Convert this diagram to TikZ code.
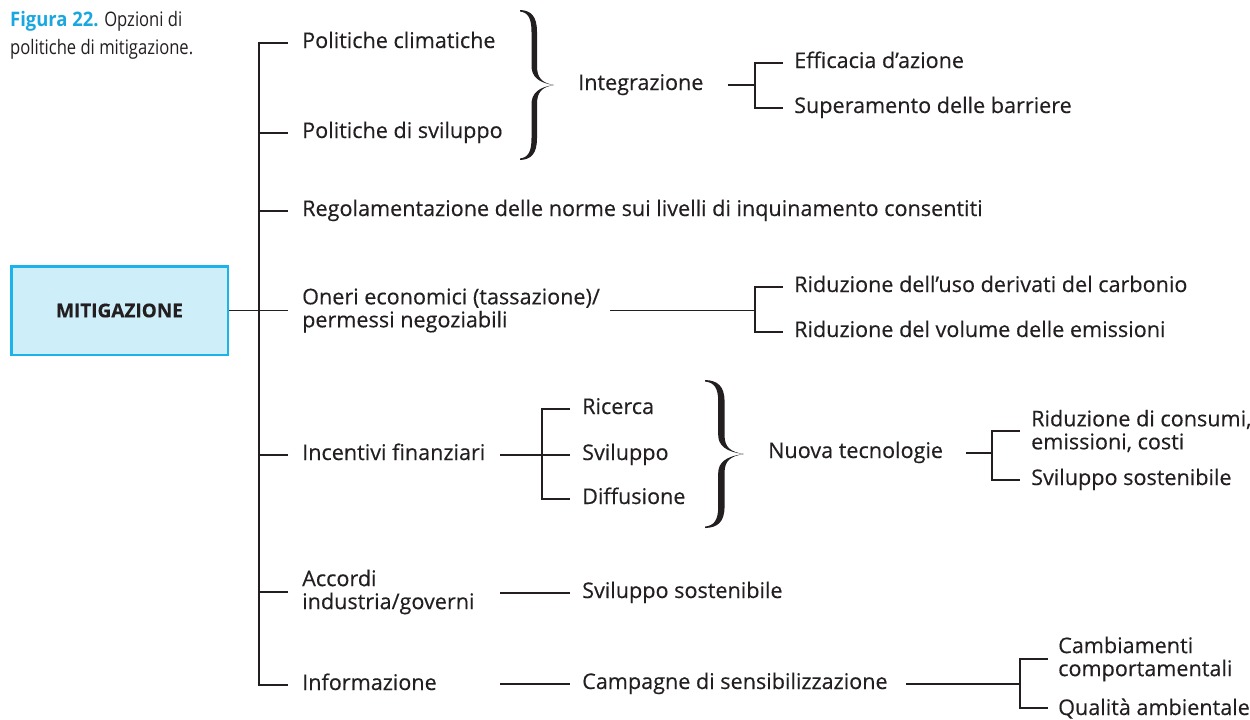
\documentclass[tikz,border=0pt]{standalone}
\usepackage{fontspec}
\setmainfont{Open Sans}[FakeBold=0.3]
\newfontfamily\capfont[FakeStretch=0.83]{Open Sans}
\newfontfamily\capbold[FakeStretch=0.92]{Open Sans}
\usepackage{xcolor}
\usepackage{tikz}
\usetikzlibrary{positioning}

\definecolor{ink}{HTML}{231F20}
\definecolor{capblue}{HTML}{1AA7E0}
\definecolor{boxfill}{HTML}{CEEEFA}
\definecolor{boxline}{HTML}{1BB3EA}

\tikzset{
	item/.style={anchor=west, inner sep=0pt, text=ink, font=\fontsize{21.6}{23}\selectfont, text height=15pt, text depth=5pt},
	item2/.style={anchor=west, inner sep=0pt, text=ink, font=\fontsize{21.6}{23}\selectfont, align=left},
	wire/.style={draw=ink, line width=1.2pt},
	curlybrace/.pic={
		\fill[ink] (0,0) .. controls (11,0.5) and (17,6) .. (17,22) -- (17,56)
		.. controls (17,68) and (22,73) .. (34,75)
		.. controls (22,77) and (17,82) .. (17,94) -- (17,128)
		.. controls (17,144) and (11,149.5) .. (0,150) -- (0,148.5)
		.. controls (8,147.5) and (11.5,142) .. (11.5,128) -- (11.5,94)
		.. controls (11.5,84) and (18,77) .. (34,75)
		.. controls (18,73) and (11.5,66) .. (11.5,56) -- (11.5,22)
		.. controls (11.5,8) and (8,2.5) .. (0,1.5) -- cycle;
	}
}

\begin{document}
\begin{tikzpicture}[x=1pt, y=-1pt]
	\useasboundingbox (0,0) rectangle (1250,720);

	% caption
	\node[anchor=north west, inner sep=0pt, align=left, text=ink, font=\capfont\fontsize{20}{28}\selectfont] (cap) at (10,11) {{\capbold\bfseries\color{capblue}Figura 22.} Opzioni di\\politiche di mitigazione.};

	\node[draw=boxline, fill=boxfill, line width=2.5pt, minimum width=216.5pt, minimum height=88.5pt, text=ink, font=\fontsize{19}{23}\selectfont\bfseries] (mit) at (119.5,310.5) {MITIGAZIONE};

	% main branches
	\node[item] (pc) at (302,43) {Politiche climatiche};
	\node[item] (ps) at (302,133) {Politiche di sviluppo};
	\node[item] (reg) at (302,211) {Regolamentazione delle norme sui livelli di inquinamento consentiti};
	\node[item2] (on) at (302,310.5) {Oneri economici (tassazione)/\\permessi negoziabili};
	\node[item] (inc) at (302,455) {Incentivi finanziari};
	\node[item2] (acc) at (302,592) {Accordi\\industria/governi};
	\node[item] (inf) at (302,685) {Informazione};

	% integrazione
	\pic at (520,10) {curlybrace};
	\node[item] (integ) at (578,85) {Integrazione};
	\node[item] (eff) at (794,63) {Efficacia d’azione};
	\node[item] (sup) at (794,108) {Superamento delle barriere};

	% oneri
	\node[item] (rid1) at (794,287) {Riduzione dell’uso derivati del carbonio};
	\node[item] (rid2) at (794,332) {Riduzione del volume delle emissioni};

	% incentivi
	\node[item] (ric) at (582,409) {Ricerca};
	\node[item] (svi) at (582,455) {Sviluppo};
	\node[item] (dif) at (582,499) {Diffusione};
	\pic[xscale=1.15, yscale=0.987] at (705,380) {curlybrace};
	\node[item] (nuova) at (768,453) {Nuova tecnologie};
	\node[item2] (cons) at (1031,431) {Riduzione di consumi,\\emissioni, costi};
	\node[item] (sost) at (1031,480) {Sviluppo sostenibile};

	% accordi, informazione
	\node[item] (sost2) at (582,593) {Sviluppo sostenibile};
	\node[item] (camp) at (582,684) {Campagne di sensibilizzazione};
	\node[item2] (camb) at (1058,659) {Cambiamenti\\comportamentali};
	\node[item] (qual) at (1058,710) {Qualità ambientale};

	\coordinate (trk) at (259,0);
	\coordinate (col2) at (500,0);
	\coordinate (f1) at (755,0);
	\coordinate (f2) at (542,0);
	\coordinate (f3) at (992,0);
	\coordinate (f4) at (1020,0);

	\draw[wire] ([xshift=-14pt]pc.west) -| (trk |- inf.west) -- ([xshift=-14pt]inf.west);
	\foreach \n in {ps,reg,on,inc,acc}
		\draw[wire] ([xshift=-14pt]\n.west) -- (trk |- \n.west);
	\draw[wire] (mit.east) -- (trk |- mit.east);

	\draw[wire] ([xshift=24pt]integ.east) -- (f1 |- integ.east);
	\draw[wire] ([xshift=-11pt]eff.west) -| (f1 |- sup.west) -- ([xshift=-11pt]sup.west);
	\draw[wire] ([xshift=10pt]on.east) -- (f1 |- on.east);
	\draw[wire] ([xshift=-11pt]rid1.west) -| (f1 |- rid2.west) -- ([xshift=-11pt]rid2.west);

	\draw[wire] (col2 |- svi.west) -- ([xshift=-12pt]svi.west);
	\draw[wire] ([xshift=-12pt]ric.west) -| (f2 |- dif.west) -- ([xshift=-12pt]dif.west);
	\draw[wire] ([xshift=23pt]nuova.east) -- (f3 |- nuova.east);
	\draw[wire] ([xshift=-11pt]cons.west) -| (f3 |- sost.west) -- ([xshift=-11pt]sost.west);

	\draw[wire] (col2 |- sost2.west) -- ([xshift=-12pt]sost2.west);
	\draw[wire] (col2 |- camp.west) -- ([xshift=-12pt]camp.west);
	\draw[wire] ([xshift=18pt]camp.east) -- (f4 |- camp.east);
	\draw[wire] ([xshift=-10pt]camb.west) -| ([xshift=-38pt,yshift=2pt]qual.west) -- ([xshift=-10pt,yshift=2pt]qual.west);
\end{tikzpicture}
\end{document}
